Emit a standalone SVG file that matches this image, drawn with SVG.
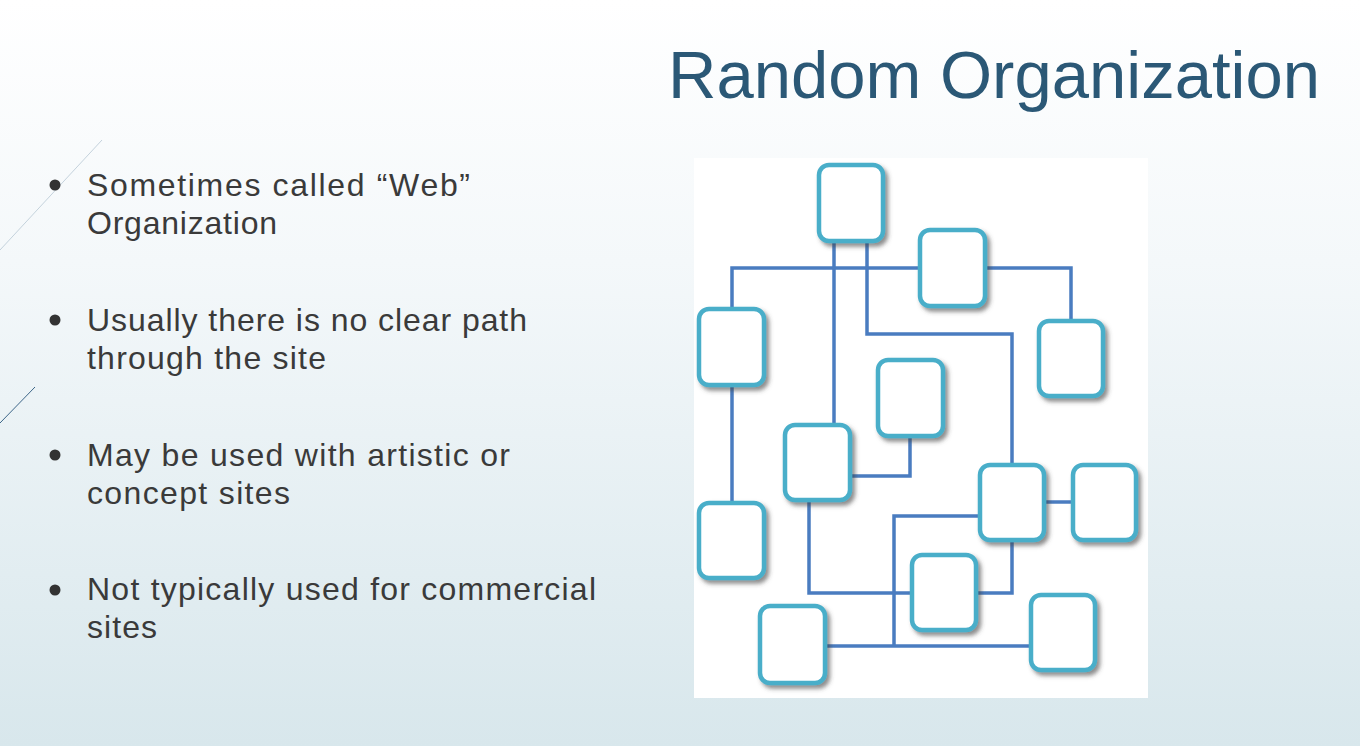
<svg xmlns="http://www.w3.org/2000/svg" width="1360" height="746" viewBox="0 0 1360 746">
  <defs>
    <linearGradient id="bg" x1="0" y1="0" x2="0" y2="1">
      <stop offset="0" stop-color="#ffffff"/>
      <stop offset="0.35" stop-color="#f4f8fa"/>
      <stop offset="1" stop-color="#d8e7ec"/>
    </linearGradient>
    <filter id="shadow" x="-20%" y="-20%" width="150%" height="150%">
      <feDropShadow dx="3" dy="3.5" stdDeviation="2" flood-color="#404040" flood-opacity="0.6"/>
    </filter>
    <style>
      .title { font-family: "Liberation Sans", Arial, sans-serif; font-size: 67px; fill: #2b5876; }
      .bullet { font-family: "Liberation Sans", Arial, sans-serif; font-size: 32px; fill: #3a3a3a; }
      .dot { fill: #333333; }
      .box { fill: #ffffff; stroke: #4aaec9; stroke-width: 4.5; filter: url(#shadow); }
      .link { fill: none; stroke: #4a7cc0; stroke-width: 3.5; stroke-linejoin: miter; }
    </style>
  </defs>

  <!-- slide background -->
  <rect width="1360" height="746" fill="url(#bg)"/>
  <line x1="0" y1="250" x2="102" y2="140" stroke="#c4d2dc" stroke-width="1"/>
  <line x1="0" y1="423" x2="35" y2="387" stroke="#3d6688" stroke-width="1"/>

  <!-- heading -->
  <text class="title" x="668" y="98" textLength="652" lengthAdjust="spacingAndGlyphs">Random Organization</text>

  <!-- bullet list -->
  <g id="bullets">
    <circle class="dot" cx="55" cy="185" r="5.5"/>
    <text class="bullet" x="87" y="196" textLength="383" lengthAdjust="spacing">Sometimes called “Web”</text>
    <text class="bullet" x="87" y="234" textLength="190" lengthAdjust="spacing">Organization</text>

    <circle class="dot" cx="55" cy="320" r="5.5"/>
    <text class="bullet" x="87" y="331" textLength="440" lengthAdjust="spacing">Usually there is no clear path</text>
    <text class="bullet" x="87" y="369" textLength="239" lengthAdjust="spacing">through the site</text>

    <circle class="dot" cx="55" cy="455" r="5.5"/>
    <text class="bullet" x="87" y="466" textLength="423" lengthAdjust="spacing">May be used with artistic or</text>
    <text class="bullet" x="87" y="504" textLength="203" lengthAdjust="spacing">concept sites</text>

    <circle class="dot" cx="55" cy="590" r="5.5"/>
    <text class="bullet" x="87" y="600" textLength="509" lengthAdjust="spacing">Not typically used for commercial</text>
    <text class="bullet" x="87" y="638" textLength="70" lengthAdjust="spacing">sites</text>
  </g>

  <!-- web diagram panel -->
  <rect x="694" y="158" width="454" height="540" fill="#ffffff"/>

  <g id="connectors">
    <path class="link" d="M732,307 V268 H1071 V319"/>
    <path class="link" d="M834,243 V423"/>
    <path class="link" d="M867,243 V334 H1012 V463"/>
    <path class="link" d="M732,387 V501"/>
    <path class="link" d="M852,476 H910 V438"/>
    <path class="link" d="M1046,502 H1071" stroke-width="5"/>
    <path class="link" d="M978,516 H894 V646"/>
    <path class="link" d="M809,502 V593 H910"/>
    <path class="link" d="M978,593 H1012 V542"/>
    <path class="link" d="M827,646 H1029"/>
  </g>

  <g id="page-a"><rect class="box" x="819" y="165" width="64" height="76" rx="10"/></g>
  <g id="page-b"><rect class="box" x="920" y="230" width="65" height="76" rx="10"/></g>
  <g id="page-c"><rect class="box" x="699" y="309" width="65" height="76" rx="10"/></g>
  <g id="page-d"><rect class="box" x="1039" y="321" width="64" height="75" rx="10"/></g>
  <g id="page-e"><rect class="box" x="878" y="360" width="65" height="76" rx="10"/></g>
  <g id="page-f"><rect class="box" x="785" y="425" width="65" height="75" rx="10"/></g>
  <g id="page-g"><rect class="box" x="699" y="503" width="65" height="75" rx="10"/></g>
  <g id="page-h"><rect class="box" x="980" y="465" width="64" height="75" rx="10"/></g>
  <g id="page-i"><rect class="box" x="1073" y="465" width="63" height="75" rx="10"/></g>
  <g id="page-j"><rect class="box" x="912" y="555" width="64" height="75" rx="10"/></g>
  <g id="page-k"><rect class="box" x="760" y="606" width="65" height="77" rx="10"/></g>
  <g id="page-l"><rect class="box" x="1031" y="595" width="64" height="75" rx="10"/></g>
</svg>
